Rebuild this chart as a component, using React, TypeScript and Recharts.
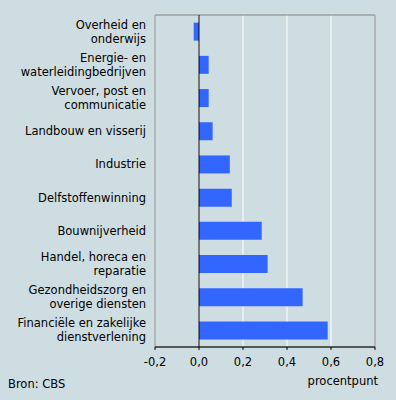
import React from "react";
import {
  BarChart,
  Bar,
  XAxis,
  YAxis,
  CartesianGrid,
  ReferenceLine,
  ReferenceArea,
} from "recharts";

const sectors = [
  "Overheid en\nonderwijs",
  "Energie- en\nwaterleidingbedrijven",
  "Vervoer, post en\ncommunicatie",
  "Landbouw en visserij",
  "Industrie",
  "Delfstoffenwinning",
  "Bouwnijverheid",
  "Handel, horeca en\nreparatie",
  "Gezondheidszorg en\noverige diensten",
  "Financiële en zakelijke\ndienstverlening",
];

const values = [-0.024, 0.044, 0.044, 0.062, 0.14, 0.149, 0.285, 0.312, 0.471, 0.585];

const xTicks = [-0.2, 0, 0.2, 0.4, 0.6, 0.8];

const data = sectors.map((s, i) => ({ sector: s, value: values[i] }));

const font = "'DejaVu Sans', Verdana, sans-serif";
const bg = "#cedde2";
const fs = 11.5;

function SectorTick(props: any) {
  const { x, y, payload } = props;
  const lines = String(payload.value).split("\n");
  const lh = 14;
  const y0 = y - ((lines.length - 1) * lh) / 2;
  return (
    <text x={x} y={y0} textAnchor="end" fontSize={fs} fontFamily={font} fill="#000">
      {lines.map((l, i) => (
        <tspan key={i} x={x} y={y0 + i * lh} dy="0.35em">
          {l}
        </tspan>
      ))}
    </text>
  );
}

export default function App() {
  return (
    <div
      style={{
        position: "absolute",
        left: 0,
        top: 0,
        width: 396,
        height: 400,
        background: bg,
        fontFamily: font,
      }}
    >
      <BarChart
        width={396}
        height={400}
        data={data}
        layout="vertical"
        margin={{ top: 15, right: 21, bottom: 23, left: 0 }}
        barCategoryGap="23%"
      >
        <CartesianGrid horizontal={false} stroke="#ffffff" strokeWidth={1} />
        <ReferenceArea x1={-0.2} x2={0.8} fill="none" fillOpacity={0} stroke="#808080" strokeWidth={1} />
        <XAxis
          type="number"
          domain={[-0.2, 0.8]}
          ticks={xTicks}
          tickFormatter={(v: number) => v.toFixed(1).replace(".", ",")}
          axisLine={{ stroke: "#000" }}
          tickLine={{ stroke: "#000" }}
          tickSize={3}
          tickMargin={8}
          height={30}
          tick={{ fontSize: fs, fontFamily: font, fill: "#000" }}
        />
        <YAxis
          type="category"
          dataKey="sector"
          width={155}
          axisLine={false}
          tickLine={false}
          tickSize={0}
          tickMargin={9}
          interval={0}
          tick={<SectorTick />}
        />
        <Bar dataKey="value" fill="#3366ff" isAnimationActive={false} />
        <ReferenceLine x={0} stroke="#000" strokeOpacity={1} strokeWidth={1} />
      </BarChart>
      <div
        style={{
          position: "absolute",
          left: 8,
          top: 377,
          fontSize: fs,
          color: "#000",
        }}
      >
        Bron: CBS
      </div>
      <div
        style={{
          position: "absolute",
          right: 18,
          top: 374,
          fontSize: fs,
          color: "#000",
        }}
      >
        procentpunt
      </div>
    </div>
  );
}
